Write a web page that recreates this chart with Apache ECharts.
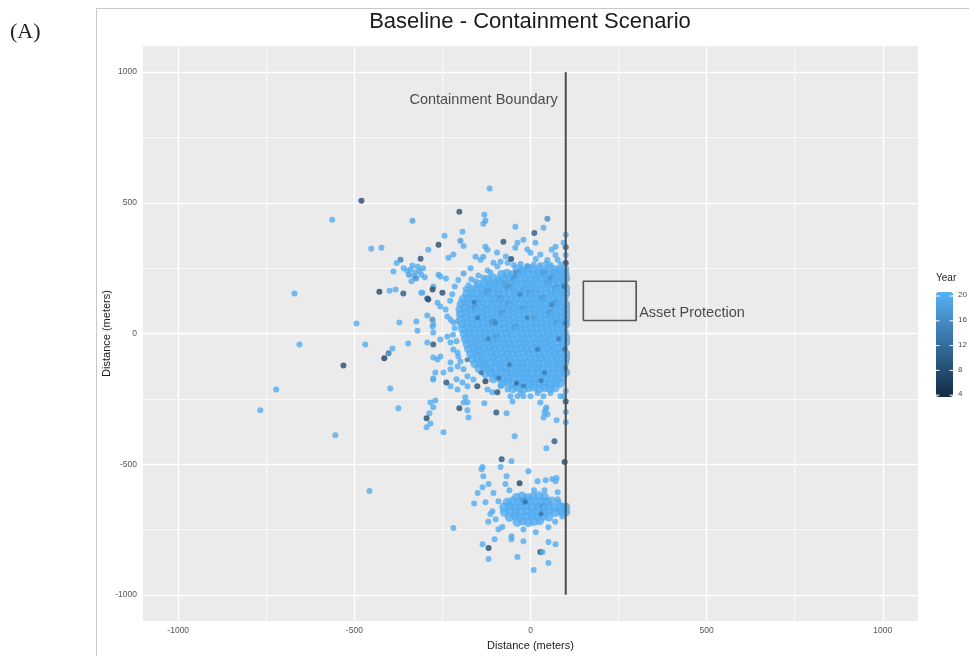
<!DOCTYPE html>
<html><head><meta charset="utf-8">
<script src="https://cdn.jsdelivr.net/npm/echarts@6/dist/echarts.min.js"></script>
<style>html,body{margin:0;padding:0;background:#fff}#c{width:969px;height:656px}</style>
</head><body><div id="c"></div>
<script>
// ---- text ----
const panelLabel = '(A)';
const titleText = 'Baseline - Containment Scenario';
const xTitle = 'Distance (meters)';
const yTitle = 'Distance (meters)';
const legendTitle = 'Year';
const boundaryText = 'Containment Boundary';
const assetText = 'Asset Protection';
// ---- axes ----
const axisRange = [-1100, 1100];
const majorTicks = [-1000, -500, 0, 500, 1000];
const minorTicks = [-750, -250, 250, 750];
const yearTicks = [4, 8, 12, 16, 20];
const yearRange = [3.7, 20.65];
// ---- annotations (data units) ----
const boundaryLine = [[100, -1000], [100, 1000]];
const assetBox = [[150, 50], [300, 50], [300, 200], [150, 200], [150, 50]];
const boundaryLabelAt = [100, 893];
const assetLabelAt = [300, 80];
// ---- points [x, y, year] ----
// dense (overlapping) main cluster
const corePoints = [
[-38,248,20],[-22,243,20],[-6,250,19],[8,244,20],[24,247,20],[39,242,20],[53,249,20],[69,245,20],[83,241,20],[97,247,20],
[-82,226,20],[-67,231,20],[-51,225,20],[-37,229,17],[-21,233,20],[-7,227,20],[9,224,20],[23,230,20],[39,228,18],[54,223,20],[68,231,20],[84,226,20],[98,229,20],
[-121,207,20],[-106,212,20],[-90,205,20],[-76,210,20],[-60,214,20],[-45,206,17],[-31,211,20],[-15,208,20],[0,204,20],[16,210,20],[30,213,20],[46,206,20],[61,209,17],[75,212,20],[91,205,20],[100,210,20],
[-146,188,20],[-130,193,20],[-116,186,20],[-100,191,20],[-86,195,20],[-70,187,18],[-55,190,20],[-41,194,20],[-25,186,20],[-11,191,20],[5,188,20],[19,193,20],[35,187,20],[49,192,19],[65,189,20],[80,194,20],[95,186,20],
[-167,169,20],[-151,174,20],[-137,167,20],[-121,172,20],[-106,176,20],[-92,168,20],[-76,171,20],[-61,175,18],[-47,167,20],[-31,172,20],[-16,169,20],[-2,174,20],[14,168,20],[28,171,20],[44,175,20],[58,167,20],[74,172,18],[88,169,20],[100,174,20],
[-181,150,20],[-166,155,20],[-150,148,20],[-136,153,20],[-120,157,18],[-106,150,20],[-91,154,20],[-75,148,20],[-61,152,20],[-45,156,20],[-31,149,20],[-15,153,20],[0,151,18],[15,155,20],[29,148,20],[45,153,20],[59,150,20],[75,156,20],[89,149,20],[100,153,20],
[-191,131,20],[-175,136,20],[-160,129,20],[-145,134,20],[-130,137,20],[-114,130,20],[-100,135,20],[-84,131,18],[-70,134,20],[-54,129,20],[-40,136,20],[-24,132,20],[-10,130,20],[6,135,20],[20,131,20],[36,134,18],[50,130,20],[66,136,20],[80,132,20],[95,135,20],
[-197,112,20],[-183,117,20],[-167,110,20],[-153,115,20],[-137,118,20],[-122,111,20],[-107,116,20],[-92,112,20],[-77,115,20],[-61,110,18],[-47,117,20],[-31,113,20],[-16,111,20],[-1,116,20],[13,112,20],[29,117,20],[43,110,20],[59,115,20],[73,113,18],[89,117,20],[100,111,20],
[-200,93,20],[-186,98,20],[-170,91,20],[-155,96,18],[-140,99,20],[-125,92,20],[-110,97,20],[-95,93,20],[-80,96,20],[-65,91,20],[-50,98,20],[-35,94,20],[-20,92,18],[-5,97,20],[10,93,20],[25,98,20],[40,91,20],[55,96,20],[70,94,20],[85,99,20],[100,92,20],
[-199,74,20],[-184,79,20],[-169,72,20],[-153,77,20],[-139,80,20],[-123,73,20],[-109,78,20],[-93,74,20],[-79,77,18],[-63,72,20],[-49,79,20],[-33,75,20],[-19,73,20],[-3,78,20],[11,74,20],[27,79,20],[41,72,20],[57,77,18],[71,75,20],[87,80,20],[100,74,20],
[-198,55,20],[-182,60,20],[-167,53,20],[-152,58,20],[-137,61,20],[-122,54,20],[-107,59,20],[-92,55,20],[-77,58,20],[-62,53,20],[-47,60,20],[-32,56,20],[-17,54,20],[-2,59,20],[13,55,18],[28,60,20],[43,53,20],[58,58,20],[73,56,20],[88,61,20],[100,55,20],
[-195,36,20],[-180,41,20],[-165,34,20],[-150,39,20],[-135,42,20],[-120,35,20],[-105,40,17],[-90,36,20],[-75,39,20],[-60,34,20],[-45,41,20],[-30,37,20],[-15,35,20],[0,40,20],[15,36,20],[30,41,20],[45,34,20],[60,39,20],[75,37,18],[90,42,20],[100,36,20],
[-193,17,20],[-177,22,20],[-162,15,20],[-147,20,20],[-132,23,20],[-117,16,20],[-102,21,20],[-87,17,20],[-72,20,20],[-57,15,20],[-42,22,18],[-27,18,20],[-12,16,20],[3,21,20],[18,17,20],[33,22,20],[48,15,20],[63,20,20],[78,18,20],[93,23,20],
[-188,-2,20],[-173,3,20],[-158,-4,20],[-143,1,20],[-128,4,20],[-113,-3,20],[-98,2,20],[-83,-2,20],[-68,1,20],[-53,-4,20],[-38,3,20],[-23,-1,20],[-8,-3,20],[7,2,20],[22,-2,20],[37,3,20],[52,-4,20],[67,1,20],[82,-1,20],[96,4,20],
[-185,-21,20],[-170,-16,20],[-155,-23,20],[-140,-18,20],[-125,-15,20],[-110,-22,20],[-95,-17,18],[-80,-21,20],[-65,-18,20],[-50,-23,20],[-35,-16,20],[-20,-20,20],[-5,-22,20],[10,-17,20],[25,-21,20],[40,-16,20],[55,-23,20],[70,-18,20],[85,-20,20],[100,-15,20],
[-180,-40,20],[-165,-35,20],[-150,-42,20],[-135,-37,20],[-120,-34,20],[-105,-41,20],[-90,-36,20],[-75,-40,20],[-60,-37,20],[-45,-42,20],[-30,-35,20],[-15,-39,20],[0,-41,20],[15,-36,20],[30,-40,20],[45,-35,20],[60,-42,20],[75,-37,20],[90,-39,20],[100,-34,20],
[-176,-59,20],[-161,-54,20],[-146,-61,20],[-131,-56,20],[-116,-53,20],[-101,-60,20],[-86,-55,20],[-71,-59,20],[-56,-56,20],[-41,-61,20],[-26,-54,20],[-11,-58,20],[4,-60,20],[19,-55,20],[34,-59,20],[49,-54,20],[64,-61,20],[79,-56,20],[94,-58,20],
[-170,-78,20],[-155,-73,20],[-140,-80,20],[-125,-75,20],[-110,-72,20],[-95,-79,20],[-80,-74,20],[-65,-78,20],[-50,-75,20],[-35,-80,20],[-20,-73,20],[-5,-77,20],[10,-79,20],[25,-74,20],[40,-78,20],[55,-73,20],[70,-80,20],[85,-75,20],[100,-77,20],
[-165,-97,20],[-150,-92,20],[-135,-99,20],[-120,-94,20],[-105,-91,20],[-90,-98,20],[-75,-93,20],[-60,-97,20],[-45,-94,20],[-30,-99,20],[-15,-92,20],[0,-96,20],[15,-98,20],[30,-93,20],[45,-97,20],[60,-92,20],[75,-99,20],[90,-94,20],[100,-96,20],
[-158,-116,20],[-143,-111,20],[-128,-118,20],[-113,-113,20],[-98,-110,20],[-83,-117,20],[-68,-112,20],[-53,-116,20],[-38,-113,20],[-23,-118,20],[-8,-111,20],[7,-115,20],[22,-117,20],[37,-112,20],[52,-116,20],[67,-111,20],[82,-118,20],[97,-113,20],
[-146,-135,20],[-131,-130,20],[-116,-137,20],[-101,-132,20],[-86,-129,20],[-71,-136,20],[-56,-131,20],[-41,-135,20],[-26,-132,20],[-11,-137,20],[4,-130,20],[19,-134,20],[34,-136,20],[49,-131,20],[64,-135,20],[79,-130,20],[94,-137,20],
[-128,-154,20],[-113,-149,20],[-98,-156,20],[-83,-151,20],[-68,-148,20],[-53,-155,20],[-38,-150,20],[-23,-154,20],[-8,-151,20],[7,-156,20],[22,-149,20],[37,-153,20],[52,-155,20],[67,-150,20],[82,-154,20],[100,-149,20],
[-106,-173,20],[-91,-168,20],[-76,-175,20],[-61,-170,20],[-46,-167,20],[-31,-174,20],[-16,-169,20],[-1,-173,20],[14,-170,20],[29,-175,20],[44,-168,20],[59,-172,20],[74,-174,20],[90,-169,20],
[-80,-192,20],[-65,-187,20],[-50,-194,20],[-35,-189,20],[-20,-186,20],[-5,-193,20],[10,-188,20],[25,-192,20],[40,-189,20],[55,-194,20],[70,-187,20],[85,-191,20],
[-50,-211,20],[-35,-206,20],[-20,-213,20],[-5,-208,20],[10,-205,20],[25,-212,20],[40,-207,20],[55,-211,20],[70,-208,20]
];
// dense (overlapping) lower cluster
const lowerCorePoints = [
[-40,-627,20],[-24,-622,20],[-8,-628,20],[8,-624,20],[24,-621,20],[40,-626,20],
[-66,-646,20],[-50,-641,20],[-34,-647,20],[-18,-643,18],[-2,-640,20],[14,-646,20],[30,-642,20],[46,-645,20],[60,-641,20],
[-76,-665,20],[-60,-660,20],[-44,-666,20],[-28,-662,20],[-12,-659,20],[4,-665,20],[20,-661,20],[36,-664,18],[52,-660,20],[68,-666,20],[84,-662,20],[100,-664,20],
[-74,-684,20],[-58,-679,20],[-42,-685,20],[-26,-681,20],[-10,-678,20],[6,-684,20],[22,-680,20],[38,-683,20],[54,-679,20],[70,-685,20],[86,-681,20],[100,-683,20],
[-60,-703,20],[-44,-698,20],[-28,-704,20],[-12,-700,20],[4,-697,20],[20,-703,20],[36,-699,20],[52,-702,20],
[-38,-722,20],[-22,-717,20],[-6,-723,20],[10,-719,20],[26,-716,20]
];
const coreSpeckles = [
[-150,60,14],[-120,-20,15],[-60,-120,14],[-30,150,15],[20,-60,14],[60,110,15],[-90,-170,13],[-180,-100,14],[40,-150,14],[-100,40,15],[80,-20,14],[-10,60,15],[-160,120,14],
[95,180,13],[98,40,14],[97,-60,13],[99,-130,14],[-140,-150,13],[-20,-200,14],[-40,-190,12],[30,-180,14],[-15,-645,12],[30,-690,13]
];
const fringePoints = [
[-105,271,20],[-94,256,20],[-85,275,20],[-65,271,20],[-48,262,20],[-28,266,20],[-9,258,20],[9,264,20],[28,262,20],[44,268,20],
[-43,328,20],[-37,347,20],[0,309,20],[28,302,20],[48,281,20],[57,262,20],[71,300,20],[77,282,20],[100,378,20],[100,330,12],[100,300,20],[100,270,8],[86,265,20],
[-134,294,20],[-114,233,20],[-122,241,20],[-134,214,20],[-148,222,20],[-156,199,20],[-168,208,20],[-176,185,20],[-184,170,20],
[-70,295,20],[-55,285,8],[15,285,20],[60,320,20],[-95,310,20],[-170,250,20],[-190,230,19],[-205,205,20],[-215,180,20],[-222,150,20],[-228,125,20],[-240,210,20],
[-264,118,20],[-256,103,20],[-241,92,20],[-236,65,20],[-227,53,20],[-219,42,20],[-207,46,20],[-215,20,20],[-220,-5,20],[-210,-30,20],
[-278,27,20],[-276,4,20],[-256,-23,20],[-236,-11,20],[-227,-34,20],[-219,-61,20],[-207,-73,20],[-205,-88,20],[-264,-99,20],[-256,-88,20],
[-227,-111,20],[-207,-126,20],[-199,-107,20],[-247,-149,20],[-190,-137,20],[-179,-164,20],[-193,-187,20],[-179,-202,20],[-227,-202,20],[-207,-214,20],
[-162,-176,20],[-151,-202,8],[-128,-183,7],[-122,-214,20],[-108,-225,20],[-94,-225,9],[-85,-202,20],[-65,-214,20],[-57,-240,20],
[-37,-240,20],[-28,-228,20],[-20,-240,20],[0,-240,20],[20,-228,20],[37,-240,20],[57,-228,20],[85,-240,20],
[-276,-176,20],[-284,-264,20],[-190,-264,20],[-179,-294,20],[28,-264,20],[43,-290,20],[48,-309,20],
[100,-220,20],[100,-260,9],[100,-300,20],[100,-340,20]
];
const outlierPoints = [
[-480,508,8],[-563,435,20],[-335,431,19],[-452,324,20],[-423,328,20],[-116,555,20],[-202,466,9],[-131,454,20],[-128,431,19],[-134,420,20],
[-43,408,20],[48,439,16],[37,405,20],[11,385,10],[14,347,20],[94,347,20],[71,332,20],[-244,374,20],[-261,340,8],[-193,389,20],[-199,355,18],[-190,335,20],
[-77,351,9],[-290,320,20],[-261,225,20],[-256,218,20],[-276,179,19],[-250,156,8],[-290,130,7],[-307,156,20],[-233,290,20],[-219,302,20],
[-156,294,20],[-142,282,20],[-20,359,20],[-9,321,20],[-128,332,20],[-122,320,20],
[-327,233,20],[-340,245,20],[-315,240,19],[-330,220,20],[-345,225,18],[-320,255,20],[-335,260,20],[-310,225,20],[-350,240,20],[-325,210,17],[-305,250,20],[-338,200,20],[-300,215,20],
[-389,237,20],[-369,282,14],[-312,286,9],[-380,270,20],[-360,250,20],
[-429,160,7],[-400,164,20],[-383,168,20],[-361,153,10],[-310,156,20],[-293,134,9],[-278,168,8],
[-670,153,20],[-494,38,20],[-372,42,20],[-324,46,20],[-321,11,20],[-293,69,20],[-278,53,16],[-276,34,20],
[-656,-42,20],[-469,-42,20],[-347,-38,20],[-293,-34,20],[-276,-42,9],[-392,-57,20],[-403,-76,14],[-415,-95,6],[-531,-122,8],[-276,-92,20],
[-270,-149,20],[-276,-172,20],[-722,-214,20],[-398,-210,20],[-375,-286,20],[-767,-294,20],
[-270,-256,20],[-276,-282,20],[-287,-305,20],[-295,-324,8],[-284,-344,20],[-295,-359,20],[-554,-389,20],[-457,-603,20],
[-247,-378,20],[-202,-286,8],[-176,-321,20],[-179,-263,20],[-185,-244,20],[-239,-187,9],[-227,-137,20],[-210,-175,20],
[-97,-302,9],[-68,-305,20],[-45,-393,20],[45,-439,20],[68,-412,10],[74,-332,20],[37,-321,20],[94,-240,20],[97,-492,7],
[-131,-267,20],[-51,-260,20],[40,-302,20],[45,-283,20]
];
const lowerClusterPoints = [
[-82,-481,9],[-54,-489,20],[-136,-511,20],[-85,-511,20],[-139,-519,20],[-134,-546,20],[-119,-576,20],[-68,-546,20],[-71,-576,20],[-6,-527,20],[-31,-573,7],
[20,-565,20],[43,-561,20],[62,-557,20],[74,-553,20],[71,-565,20],[-136,-588,20],[-128,-646,20],[-108,-680,20],[-114,-691,20],[-99,-711,20],[-91,-642,20],
[-219,-744,20],[-136,-806,20],[-119,-821,8],[-119,-863,20],[-102,-787,20],[-91,-749,20],[-54,-776,20],[-54,-787,20],[-37,-855,20],[-20,-795,20],
[9,-905,20],[28,-836,8],[34,-836,20],[51,-878,20],[51,-798,20],[71,-806,20],[85,-684,20],[91,-661,20],[77,-607,20],[77,-634,20],[51,-741,20],
[-150,-610,20],[-160,-650,20],[-105,-610,20],[-120,-720,20],[-80,-740,20],[70,-720,20],[90,-700,20],[80,-645,20],[-60,-600,20],[10,-600,20],[40,-600,20],[-20,-750,20],[15,-760,20]
];

const FONT = "'Liberation Sans', Arial, Helvetica, sans-serif";
const chart = echarts.init(document.getElementById('c'), null, {renderer: 'canvas'});

const barTop = 292, barH = 105, barLeft = 936, barW = 17;
const yearToPx = v => barTop + (yearRange[1] - v) / (yearRange[1] - yearRange[0]) * barH;

const legendGraphics = [];
yearTicks.forEach(v => {
  const y = yearToPx(v);
  legendGraphics.push({type:'text', left: barLeft + barW + 5, top: y - 5,
    style:{text: String(v), fontSize: 8, fill:'#4d4d4d', fontFamily: FONT}, z: 100});
  legendGraphics.push({type:'line', shape:{x1: barLeft, y1: y, x2: barLeft + 3.5, y2: y}, style:{stroke:'#fff', lineWidth:1}, z: 100});
  legendGraphics.push({type:'line', shape:{x1: barLeft + barW - 3.5, y1: y, x2: barLeft + barW, y2: y}, style:{stroke:'#fff', lineWidth:1}, z: 100});
});

const gridLineData = (ticks) => ticks.map(v => ({xAxis: v})).concat(ticks.map(v => ({yAxis: v})));
const plainNum = v => String(v);

const option = {
  animation: false,
  backgroundColor: '#fff',
  title: {text: titleText, left: 530, top: 11, textAlign: 'center', padding: 0,
    textStyle: {fontFamily: FONT, fontSize: 22, fontWeight: 'normal', color: '#1a1a1a'}},
  grid: {left: 143, right: 51, top: 46, bottom: 34, show: true, backgroundColor: '#EBEBEB', borderWidth: 0},
  xAxis: {type: 'value', min: axisRange[0], max: axisRange[1],
    name: xTitle, nameLocation: 'middle', nameGap: 19, nameMoveOverlap: false,
    nameTextStyle: {fontFamily: FONT, fontSize: 11, color: '#1a1a1a'},
    axisLine: {show: false}, splitLine: {show: false},
    axisTick: {show: true, customValues: majorTicks, length: 3, lineStyle: {color: '#444', width: 1}},
    axisLabel: {customValues: majorTicks, formatter: plainNum, fontFamily: FONT, fontSize: 8.5, color: '#555', margin: 5}},
  yAxis: {type: 'value', min: axisRange[0], max: axisRange[1],
    name: yTitle, nameLocation: 'middle', nameGap: 31, nameRotate: 90, nameMoveOverlap: false,
    nameTextStyle: {fontFamily: FONT, fontSize: 11, color: '#1a1a1a'},
    axisLine: {show: false}, splitLine: {show: false},
    axisTick: {show: true, customValues: majorTicks, length: 3, lineStyle: {color: '#444', width: 1}},
    axisLabel: {customValues: majorTicks, formatter: plainNum, fontFamily: FONT, fontSize: 8.5, color: '#555', margin: 6}},
  visualMap: {type: 'continuous', min: yearRange[0], max: yearRange[1], dimension: 2,
    seriesIndex: [2, 3, 4], calculable: false, hoverLink: false, realtime: false,
    left: barLeft, top: barTop, itemWidth: barW, itemHeight: barH, padding: 0,
    inRange: {color: ['#132B43', '#56B1F7']}, text: null, showLabel: false},
  graphic: [
    {type: 'rect', shape: {x: 96.5, y: 8.5, width: 900, height: 700}, style: {fill: 'none', stroke: '#c8c8c8', lineWidth: 1}, z: -1},
    {type: 'text', left: 10, top: 21, style: {text: panelLabel, fontFamily: "'Liberation Serif', 'DejaVu Serif', serif", fontSize: 22, fill: '#222'}},
    {type: 'text', left: barLeft, top: 273, style: {text: legendTitle, fontFamily: FONT, fontSize: 10, fill: '#222'}}
  ].concat(legendGraphics),
  series: [
    {type: 'line', data: [], silent: true, z: 1,
      markLine: {silent: true, symbol: ['none', 'none'], label: {show: false}, animation: false,
        lineStyle: {color: '#fff', width: 0.7, type: 'solid'}, data: gridLineData(minorTicks)}},
    {type: 'line', data: [], silent: true, z: 1,
      markLine: {silent: true, symbol: ['none', 'none'], label: {show: false}, animation: false,
        lineStyle: {color: '#fff', width: 1.4, type: 'solid'}, data: gridLineData(majorTicks)}},
    {type: 'scatter', symbolSize: 6, z: 10, silent: true,
      data: fringePoints.concat(outlierPoints, lowerClusterPoints)},
    {type: 'scatter', symbolSize: 9, z: 11, silent: true,
      data: corePoints.concat(lowerCorePoints)},
    {type: 'scatter', symbolSize: 5, z: 12, silent: true,
      data: coreSpeckles},
    {type: 'line', data: assetBox, symbol: 'none', z: 13, silent: true,
      lineStyle: {color: '#555', width: 1.6, join: 'round'}},
    {type: 'line', data: boundaryLine, symbol: 'none', z: 14, silent: true,
      lineStyle: {color: '#4d4d4d', width: 2}},
    {type: 'scatter', data: [boundaryLabelAt], symbolSize: 0, z: 15, silent: true,
      label: {show: true, position: 'left', distance: 8, formatter: boundaryText,
        fontFamily: FONT, fontSize: 14.5, color: '#222'}},
    {type: 'scatter', data: [assetLabelAt], symbolSize: 0, z: 15, silent: true,
      label: {show: true, position: 'right', distance: 3, formatter: assetText,
        fontFamily: FONT, fontSize: 14.5, color: '#222'}}
  ]
};
chart.setOption(option);
</script></body></html>
